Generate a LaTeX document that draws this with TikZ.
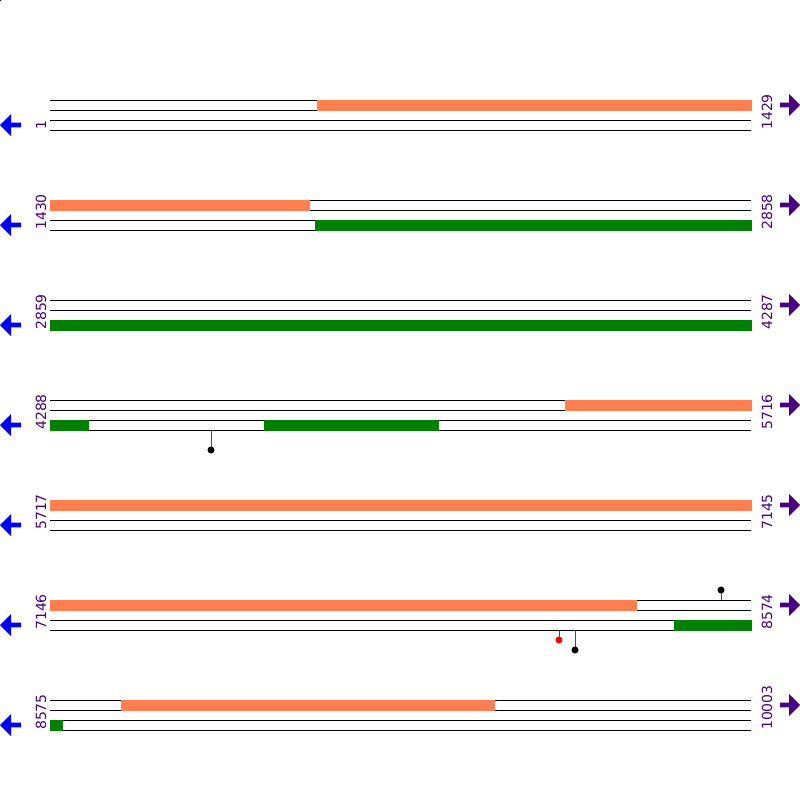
\documentclass[tikz,border=0pt]{standalone}
\usepackage{fontspec}
\setmainfont{DejaVu Sans}
\definecolor{coralbar}{RGB}{255,127,80}
\definecolor{greenbar}{RGB}{0,128,0}
\definecolor{labelpurple}{RGB}{75,0,130}
\definecolor{arrowblue}{RGB}{0,0,255}
\tikzset{
  track/.style={draw=black,line width=1pt},
  orangebar/.style={fill=coralbar,draw=none},
  greenbarstyle/.style={fill=greenbar,draw=none},
  stick/.style={draw=red,line width=1pt},
  posnum/.style={text=labelpurple,font=\fontsize{14}{14}\selectfont,inner sep=0pt,rotate=90,anchor=base west},
  leftarrow/.style={fill=arrowblue,draw=none},
  rightarrow/.style={fill=labelpurple,draw=none}
}
\begin{document}
\begin{tikzpicture}[x=1pt,y=-1pt]
\useasboundingbox (0,0) rectangle (800,800);
\fill[black] (0,0) circle (1.5);
% tracks, labels, arrows
\foreach \r/\lft/\rgt [count=\i] in {100/1/1429,200/1430/2858,300/2859/4287,400/4288/5716,500/5717/7145,600/7146/8574,700/8575/10003}{
  \foreach \d in {0,10,20,30}{
    \draw[track] (50,\r+\d) -- (751,\r+\d);
  }
  \node[posnum] (L\i) at (46,\r+30) {\lft};
  \node[posnum] (R\i) at (772,\r+30) {\rgt};
  \fill[leftarrow] (0,\r+25) -- (11,\r+14) -- (11,\r+22.7) -- (21,\r+22.7) -- (21,\r+27.3) -- (11,\r+27.3) -- (11,\r+36) -- cycle;
  \fill[rightarrow] (800,\r+5) -- (789,\r-6) -- (789,\r+2.7) -- (780,\r+2.7) -- (780,\r+7.3) -- (789,\r+7.3) -- (789,\r+16) -- cycle;
}
% row 1
\fill[orangebar] (317,99.5) rectangle (751.5,110.5);
% row 2
\fill[orangebar] (50,199.5) rectangle (310,210.5);
\fill[greenbarstyle] (315,219.5) rectangle (751.5,230.5);
% row 3
\fill[greenbarstyle] (50,319.5) rectangle (751.5,330.5);
% row 4
\fill[orangebar] (565,399.5) rectangle (751.5,410.5);
\fill[greenbarstyle] (50,419.5) rectangle (89,430.5);
\fill[greenbarstyle] (264,419.5) rectangle (439,430.5);
\draw[stick] (211,430.5) -- (211,450);
\fill[black] (211,450) circle (3.5);
% row 5
\fill[orangebar] (50,499.5) rectangle (751.5,510.5);
% row 6
\fill[orangebar] (50,599.5) rectangle (637,610.5);
\fill[greenbarstyle] (674,619.5) rectangle (751.5,630.5);
\draw[stick] (721,599.5) -- (721,590);
\fill[black] (721,590) circle (3.5);
\draw[stick] (559,630.5) -- (559,640);
\fill[red] (559,640) circle (3.5);
\draw[stick] (575,630.5) -- (575,650);
\fill[black] (575,650) circle (3.5);
% row 7
\fill[orangebar] (121,699.5) rectangle (495,710.5);
\fill[greenbarstyle] (50,719.5) rectangle (63,730.5);
\end{tikzpicture}
\end{document}
